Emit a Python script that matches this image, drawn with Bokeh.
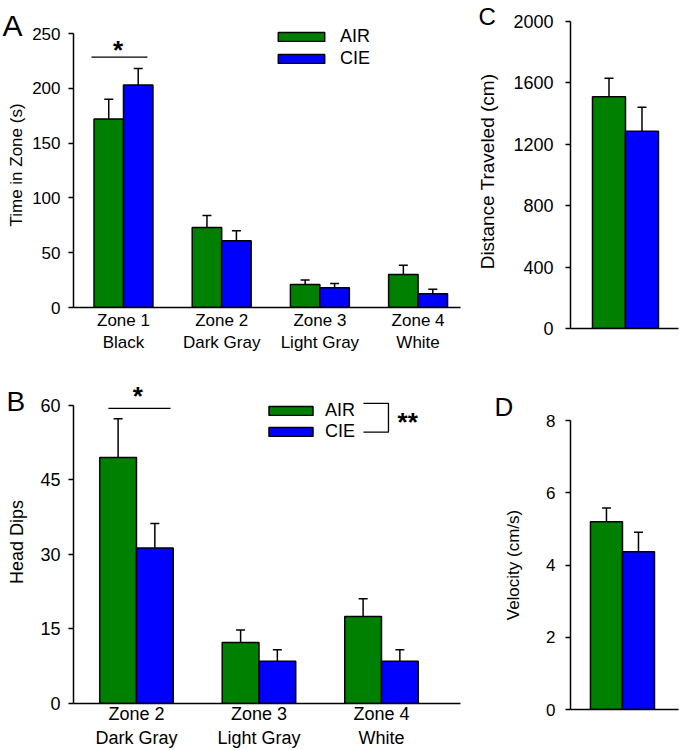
from bokeh.plotting import figure
from bokeh.layouts import column, row
from bokeh.models import (Range1d, FixedTicker, Legend, LegendItem, Label, Title,
                          Whisker, ColumnDataSource, TeeHead)
from bokeh.embed import file_html
from bokeh.resources import INLINE

# ---------------- data ----------------
groups = ["AIR", "CIE"]
group_colors = ["#008000", "#0000FF"]

zones_A = ["Zone 1\nBlack", "Zone 2\nDark Gray", "Zone 3\nLight Gray", "Zone 4\nWhite"]
time_air = [172, 73, 21, 30]
time_air_sem = [18, 11, 4, 8.5]
time_cie = [203, 61, 18, 12.5]
time_cie_sem = [15, 9, 4, 4.2]

zones_B = ["Zone 2\nDark Gray", "Zone 3\nLight Gray", "Zone 4\nWhite"]
dips_air = [49.5, 12.3, 17.5]
dips_air_sem = [7.8, 2.5, 3.6]
dips_cie = [31.3, 8.5, 8.5]
dips_cie_sem = [4.9, 2.3, 2.3]

dist_air = [1510]
dist_air_sem = [120]
dist_cie = [1285]
dist_cie_sem = [157]

vel_air = [5.2]
vel_air_sem = [0.38]
vel_cie = [4.37]
vel_cie_sem = [0.54]

ticks_A = [0, 50, 100, 150, 200, 250]
ticks_B = [0, 15, 30, 45, 60]
ticks_C = [0, 400, 800, 1200, 1600, 2000]
ticks_D = [0, 2, 4, 6, 8]

FONT = "Liberation Sans"
BAR_W = 0.3


def make_fig(width, height, xr, yr, borders, ylabel, yticks, ybounds, tick_fs="17px",
             lab_fs="17px", lab_standoff=3, tick_standoff=8):
    p = figure(width=width, height=height, x_range=Range1d(*xr), y_range=Range1d(*yr),
               output_backend="svg", toolbar_location=None, tools="")
    l, r, t, b = borders
    p.min_border_left, p.min_border_right = l, r
    p.min_border_top, p.min_border_bottom = t, b
    p.outline_line_color = None
    p.xgrid.visible = False
    p.ygrid.visible = False
    for ax in (p.xaxis[0], p.yaxis[0]):
        ax.axis_line_color = "black"
        ax.axis_line_width = 1.5
        ax.major_tick_line_color = "black"
        ax.major_tick_line_width = 1.5
        ax.minor_tick_line_color = None
        ax.major_label_text_font = FONT
        ax.major_label_text_font_size = tick_fs
        ax.major_label_text_color = "black"
        ax.axis_label_text_font = FONT
        ax.axis_label_text_font_style = "normal"
        ax.axis_label_text_font_size = lab_fs
        ax.axis_label_text_color = "black"
    ya = p.yaxis[0]
    ya.ticker = FixedTicker(ticks=yticks)
    ya.major_tick_out = 5
    ya.major_tick_in = 0
    ya.major_label_standoff = tick_standoff
    ya.axis_label = ylabel
    ya.axis_label_standoff = lab_standoff
    ya.bounds = ybounds
    xa = p.xaxis[0]
    xa.major_tick_out = 0
    xa.major_tick_in = 0
    xa.major_tick_line_color = None
    return p


def add_bars(p, air, air_sem, cie, cie_sem):
    pos = list(range(1, len(air) + 1))
    rends = []
    for k, (vals, sems) in enumerate(((air, air_sem), (cie, cie_sem))):
        off = (-0.5 + k) * BAR_W
        src = ColumnDataSource(dict(x=[q + off for q in pos], top=vals,
                                    up=[v + s for v, s in zip(vals, sems)]))
        w = Whisker(base="x", lower="top", upper="up", source=src, dimension="height",
                    lower_head=None, upper_head=TeeHead(size=9, line_width=1.5),
                    line_width=1.5, line_color="black")
        p.add_layout(w)
        r = p.vbar(x="x", top="top", bottom=0, width=BAR_W, source=src,
                   fill_color=group_colors[k], line_color="black", line_width=1.5)
        rends.append(r)
    return pos, rends


def add_legend(p, rends, loc, gw, gh, standoff, spacing):
    items = [LegendItem(label=g, renderers=[r]) for g, r in zip(groups, rends)]
    leg = Legend(items=items, location=loc, glyph_width=gw, glyph_height=gh,
                 label_standoff=standoff, spacing=spacing, padding=0, margin=0,
                 border_line_color=None, background_fill_alpha=0,
                 label_text_font=FONT, label_text_font_size="18px",
                 label_text_color="black", label_height=18)
    p.add_layout(leg)


def letter(p, txt, size, offset, standoff):
    p.title = Title(text=txt, align="left", offset=offset, standoff=standoff,
                    text_font=FONT, text_font_size=size, text_font_style="normal",
                    text_color="black")


def star(p, x, y, txt, align="center"):
    p.add_layout(Label(x=x, y=y, text=txt, text_font=FONT, text_font_size="26px",
                       text_font_style="bold", text_align=align,
                       text_baseline="alphabetic", text_color="black"))


# ---------------- Panel A ----------------
pA = make_fig(465, 362, (0.491, 4.432), (0, 260.04), (73, 5, 22, 55),
              "Time in Zone (s)", ticks_A, (0, 250))
posA, rA = add_bars(pA, time_air, time_air_sem, time_cie, time_cie_sem)
pA.xaxis[0].ticker = FixedTicker(ticks=posA)
pA.xaxis[0].major_label_overrides = {q: z for q, z in zip(posA, zones_A)}
pA.xaxis[0].major_label_standoff = 3
add_legend(pA, rA, (199, 238), 58, 11, 10, 1)
pA.line(x=[posA[0] - 0.326, posA[0] + 0.244], y=[228.4, 228.4], line_color="black", line_width=1.3)
star(pA, posA[0] - 0.056, 235.4, "*")
letter(pA, "A", "30px", -71, -38)

# ---------------- Panel B ----------------
pB = make_fig(465, 388, (0.486, 3.645), (0, 65), (73, 5, 18, 45), "Head Dips", ticks_B, (0, 60),
              tick_fs="18px", lab_fs="18px", lab_standoff=10, tick_standoff=8)
posB, rB = add_bars(pB, dips_air, dips_air_sem, dips_cie, dips_cie_sem)
pB.xaxis[0].ticker = FixedTicker(ticks=posB)
pB.xaxis[0].major_label_overrides = {q: z for q, z in zip(posB, zones_B)}
pB.xaxis[0].major_label_standoff = 0
add_legend(pB, rB, (190, 261), 55, 11, 7, 0)
pB.line(x=[posB[0] - 0.229, posB[0] + 0.278], y=[59.4, 59.4], line_color="black", line_width=1.3)
star(pB, posB[0] + 0.01, 61.8, "*")
pB.line(x=[2.853, 3.057, 3.057, 2.853], y=[60.4, 60.4, 54.6, 54.6], line_color="black", line_width=1.3)
star(pB, 3.131, 56.6, "**", align="left")
letter(pB, "B", "28px", -67, -72)

# ---------------- Panel C ----------------
pC = make_fig(214, 362, (0.5, 1.482), (0, 2045.6), (105, 1, 14, 34), "Distance Traveled (cm)",
              ticks_C, (0, 2000), tick_fs="18px", lab_fs="19px", lab_standoff=12, tick_standoff=12)
pC.xaxis[0].ticker = FixedTicker(ticks=[])
add_bars(pC, dist_air, dist_air_sem, dist_cie, dist_cie_sem)
letter(pC, "C", "24px", -92, -30)

# ---------------- Panel D ----------------
pD = make_fig(214, 388, (0.513, 1.525), (0, 8), (105, 1, 58, 41), "Velocity (cm/s)", ticks_D,
              (0, 8), lab_standoff=20, tick_standoff=10)
pD.xaxis[0].ticker = FixedTicker(ticks=[])
add_bars(pD, vel_air, vel_air_sem, vel_cie, vel_cie_sem)
letter(pD, "D", "26px", -76, -2)

layout = row(column(pA, pB), column(pC, pD))
open("out.html", "w").write(file_html(layout, INLINE))
